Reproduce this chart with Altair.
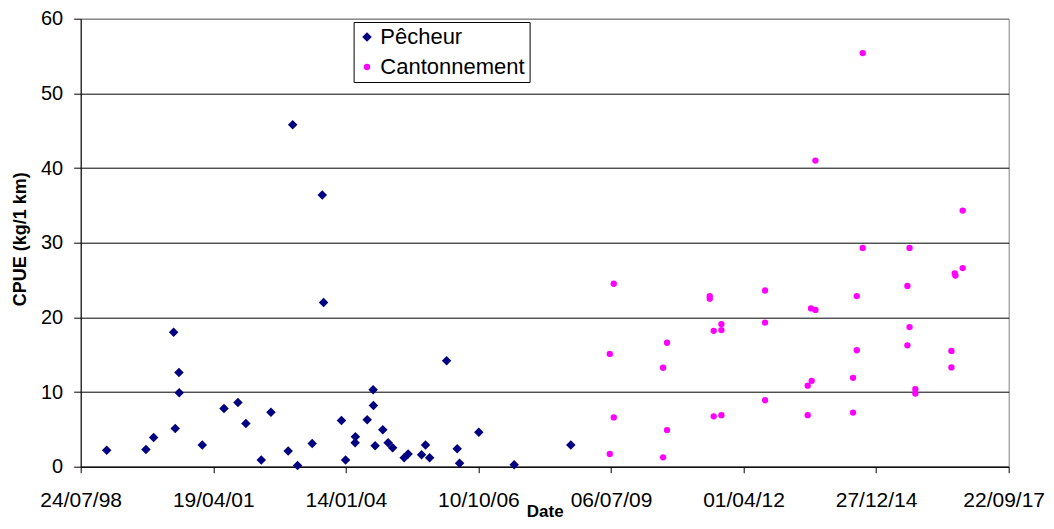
import altair as alt
import pandas as pd

# Series "Pêcheur" (fisher catches)
pecheur_dates = [
    "1999-02-05", "1999-11-28", "2000-01-25", "2000-06-24", "2000-07-06",
    "2000-08-03", "2000-08-05", "2001-01-26", "2001-07-09", "2001-10-22",
    "2001-12-21", "2002-04-16", "2002-06-28", "2002-11-05", "2002-12-09",
    "2003-01-15", "2003-05-05", "2003-07-20", "2003-07-30", "2003-12-12",
    "2004-01-12", "2004-03-26", "2004-03-24", "2004-06-23", "2004-08-07",
    "2004-08-09", "2004-08-22", "2004-10-19", "2004-11-28", "2005-01-01",
    "2005-03-29", "2005-04-28", "2005-08-07", "2005-09-06", "2005-10-07",
    "2006-02-12", "2006-05-03", "2006-05-21", "2006-10-13", "2007-07-07",
    "2008-09-06",
]
pecheur_values = [
    2.2, 2.3, 3.9, 18.0, 5.1,
    12.6, 9.9, 2.9, 7.8, 8.6,
    5.8, 0.9, 7.3, 2.1, 45.8,
    0.15, 3.1, 36.4, 22.0, 6.2,
    0.9, 4.0, 3.2, 6.3, 10.3,
    8.2, 2.8, 4.95, 3.2, 2.55,
    1.2, 1.7, 1.6, 2.9, 1.2,
    14.2, 2.4, 0.45, 4.6, 0.25,
    2.9,
]

# Series "Cantonnement" (reserve sampling)
canton_dates = [
    "2009-06-27", "2009-07-27", "2009-07-27", "2009-06-27",
    "2010-08-03", "2010-08-03", "2010-09-02", "2010-09-02",
    "2011-07-21", "2011-07-21", "2011-08-20", "2011-08-20",
    "2011-10-17", "2011-10-17", "2011-10-17",
    "2012-09-10", "2012-09-10", "2012-09-10",
    "2013-07-29", "2013-07-29", "2013-08-23", "2013-08-28",
    "2013-09-25", "2013-09-25",
    "2014-07-06", "2014-07-06", "2014-08-03", "2014-08-03",
    "2014-09-17", "2014-09-17",
    "2015-08-20", "2015-08-20", "2015-09-05", "2015-09-05",
    "2015-10-19", "2015-10-19",
    "2016-07-17", "2016-07-17", "2016-08-11", "2016-08-16",
    "2016-10-10", "2016-10-10",
]
canton_values = [
    15.1, 24.5, 6.6, 1.7,
    13.25, 1.25, 16.6, 4.9,
    22.85, 22.5, 18.2, 6.75,
    19.1, 18.3, 6.9,
    23.6, 19.3, 8.9,
    10.85, 6.9, 21.2, 11.5,
    21.0, 41.0,
    11.9, 7.25, 22.85, 15.6,
    55.4, 29.3,
    24.2, 16.25, 29.3, 18.7,
    10.4, 9.8,
    15.5, 13.3, 25.9, 25.6,
    34.3, 26.6,
]

series_names = ["Pêcheur", "Cantonnement"]
series_colors = ["#000080", "#FF00FF"]
series_shapes = ["diamond", "circle"]
series_sizes = [90, 40]

x_ticks = [(1998, 7, 24), (2001, 4, 19), (2004, 1, 14), (2006, 10, 10),
           (2009, 7, 6), (2012, 4, 1), (2014, 12, 27), (2017, 9, 22)]
y_ticks = [0, 10, 20, 30, 40, 50, 60]

df = pd.concat([
    pd.DataFrame({"Date": pecheur_dates, "CPUE": pecheur_values, "Serie": series_names[0]}),
    pd.DataFrame({"Date": canton_dates, "CPUE": canton_values, "Serie": series_names[1]}),
], ignore_index=True)

def dt(t):
    return alt.DateTime(year=t[0], month=t[1], date=t[2], utc=True)

FONT = "Liberation Sans"

chart = alt.Chart(df).mark_point(filled=True, opacity=1, strokeWidth=0).encode(
    x=alt.X(
        "Date:T",
        scale=alt.Scale(type="utc", domain=[dt(x_ticks[0]), dt(x_ticks[-1])], nice=False),
        axis=alt.Axis(
            title="Date",
            values=[dt(t) for t in x_ticks],
            labelExpr="utcFormat(datum.value, '%d/%m/%y')",
            grid=False,
            tickSize=6,
            labelPadding=17,
            labelBaseline="top",
            labelFontSize=21,
            labelFlush=False,
            labelOverlap=False,
            labelOffset={"condition": {"test": "datum.value >= utc(2017, 7, 1)", "value": -5},
                         "value": 0},
            titleY=45,
            titleBaseline="middle",
        ),
    ),
    y=alt.Y(
        "CPUE:Q",
        scale=alt.Scale(domain=[0, 60], nice=False),
        axis=alt.Axis(
            title="CPUE (kg/1 km)",
            values=y_ticks,
            tickSize=7,
            labelPadding=11,
            labelFontSize=20,
            labelBaseline="middle",
            gridColor={"condition": {"test": "datum.value === 60", "value": "#808080"},
                       "value": "#000000"},
            titleX=-60,
            titleY=220,
            titleAlign="center",
            titleBaseline="middle",
            titleAngle=270,
            titleFontSize=18,
        ),
    ),
    color=alt.Color(
        "Serie:N",
        scale=alt.Scale(domain=series_names, range=series_colors),
        legend=alt.Legend(
            title=None,
            orient="none",
            legendX=272.9,
            legendY=3.3,
            padding=4,
            symbolOffset=-1.6,
            labelOffset=2.3,
            rowPadding=8,
            labelFontSize=22,
            strokeColor="#000000",
            fillColor="#ffffff",
            symbolStrokeWidth=0,
        ),
    ),
    shape=alt.Shape("Serie:N", scale=alt.Scale(domain=series_names, range=series_shapes)),
    size=alt.Size("Serie:N", scale=alt.Scale(domain=series_names, range=series_sizes)),
).properties(
    width=928,
    height=448,
    autosize=alt.AutoSizeParams(type="none"),
    padding={"left": 72.7, "top": 10.7, "right": 37, "bottom": 54.2},
).configure(
    font=FONT,
).configure_view(
    stroke="#808080",
    strokeWidth=1,
).configure_axis(
    domainColor="#000000",
    tickColor="#000000",
    labelColor="#000000",
    titleColor="#000000",
    titleFontSize=17,
    titleFontWeight="bold",
    gridWidth=1,
    labelFont=FONT,
    titleFont=FONT,
).configure_legend(
    labelFont=FONT,
    labelColor="#000000",
)

chart.save("out.html", embed_options={"renderer": "svg", "actions": False})
